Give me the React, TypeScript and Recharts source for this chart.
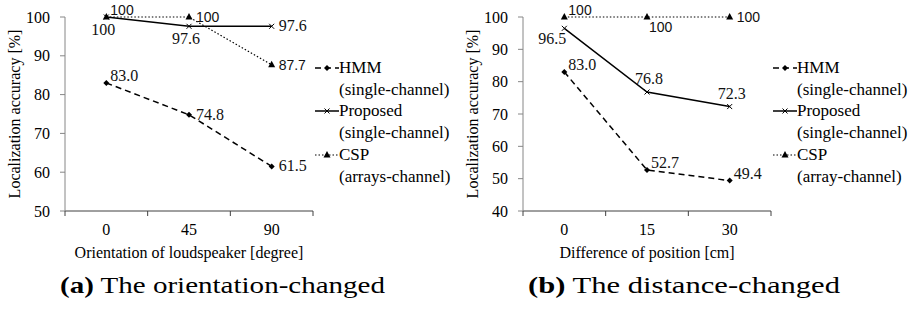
import React from 'react';
import { LineChart, Line, XAxis, YAxis, Legend, LabelList, Label } from 'recharts';

// (a) orientation changed
const orientationCats = ['0', '45', '90'];
const orientationHmm = [83.0, 74.8, 61.5];
const orientationProposed = [100, 97.6, 97.6];
const orientationCsp = [100, 100, 87.7];
const orientationTicks = [50, 60, 70, 80, 90, 100];

// (b) distance changed
const positionCats = ['0', '15', '30'];
const positionHmm = [83.0, 52.7, 49.4];
const positionProposed = [96.5, 76.8, 72.3];
const positionCsp = [100, 100, 100];
const positionTicks = [40, 50, 60, 70, 80, 90, 100];

const seriesNames = ['HMM', 'Proposed', 'CSP'];
const orientationSubs = ['(single-channel)', '(single-channel)', '(arrays-channel)'];
const positionSubs = ['(single-channel)', '(single-channel)', '(array-channel)'];

const SERIF = "'Liberation Serif', 'Times New Roman', serif";
const SANS = "'Liberation Sans', Arial, sans-serif";

const CHART_W = 456;
const CHART_H = 270;
const PLOT_L = 65;
const PLOT_R = 313;
const PLOT_T = 17;
const PLOT_B = 211;
const YAXIS_W = 50;
const XAXIS_H = 44;

const styles: Record<string, { dash?: string; width: number; marker: string }> = {
  hmm: { dash: '6 4', width: 1.5, marker: 'diamond' },
  proposed: { width: 1.5, marker: 'cross' },
  csp: { dash: '1.5 2', width: 1.2, marker: 'triangle' },
};

const placeOffsets: Record<string, { anchor: 'start' | 'middle' | 'end'; dx: number; dy: number }> = {
  right: { anchor: 'start', dx: 7, dy: 5 },
  upRight: { anchor: 'start', dx: 4, dy: -2 },
  below: { anchor: 'middle', dx: -3, dy: 18 },
  belowRight: { anchor: 'start', dx: 2, dy: 15 },
  belowLeft: { anchor: 'end', dx: 2, dy: 16 },
  above: { anchor: 'middle', dx: 2, dy: -8 },
};

const Marker = ({ cx, cy, kind }: { cx: number; cy: number; kind: string }) => {
  if (kind === 'diamond') {
    return <path d={`M${cx} ${cy - 3}L${cx + 3} ${cy}L${cx} ${cy + 3}L${cx - 3} ${cy}Z`} fill="#000" />;
  }
  if (kind === 'cross') {
    return (
      <path
        d={`M${cx - 2.5} ${cy - 2.5}L${cx + 2.5} ${cy + 2.5}M${cx - 2.5} ${cy + 2.5}L${cx + 2.5} ${cy - 2.5}`}
        stroke="#000"
        strokeWidth={1}
      />
    );
  }
  return <path d={`M${cx} ${cy - 4}L${cx + 3.5} ${cy + 2.5}L${cx - 3.5} ${cy + 2.5}Z`} fill="#000" />;
};

const fmt = (v: number) => (v === 100 ? '100' : v.toFixed(1));

const makeLabel = (placements: string[], sans: boolean) => (props: any) => {
  const { x, y, value, index } = props;
  const p = placeOffsets[placements[index]] || placeOffsets.right;
  return (
    <text
      x={x + p.dx}
      y={y + p.dy}
      textAnchor={p.anchor}
      style={{ fontFamily: sans ? SANS : SERIF }}
      fontSize={sans ? 14 : 16}
      fill="#111"
    >
      {fmt(value)}
    </text>
  );
};

const XTick = (props: any) => {
  const { x, y, payload, index, count } = props;
  const bw = (PLOT_R - PLOT_L) / count;
  return (
    <g>
      {index === 0 && <line x1={x - bw / 2} y1={y} x2={x - bw / 2} y2={y + 5} stroke="#404040" />}
      <line x1={x + bw / 2} y1={y} x2={x + bw / 2} y2={y + 5} stroke="#404040" />
      <text x={x} y={y + 24} textAnchor="middle" style={{ fontFamily: SERIF }} fontSize={16} fill="#000">
        {payload.value}
      </text>
    </g>
  );
};

const makeLegend = (subs: string[]) => () => (
  <div style={{ fontFamily: SERIF, fontSize: 17, lineHeight: '21.7px', color: '#000' }}>
    {['hmm', 'proposed', 'csp'].map((k, i) => {
      const s = styles[k];
      return (
        <div key={k}>
          <div style={{ display: 'flex', alignItems: 'center' }}>
            <svg width={24} height={12}>
              <line x1={0} y1={6} x2={24} y2={6} stroke="#000" strokeWidth={s.width} strokeDasharray={s.dash} />
              <Marker cx={12} cy={6} kind={s.marker} />
            </svg>
            <span>{seriesNames[i]}</span>
          </div>
          <div style={{ paddingLeft: 24 }}>{subs[i]}</div>
        </div>
      );
    })}
  </div>
);

interface PanelProps {
  cats: string[];
  hmm: number[];
  proposed: number[];
  csp: number[];
  yTicks: number[];
  xTitle: string;
  subs: string[];
  placements: { hmm: string[]; proposed: string[]; csp: string[] };
}

const Panel = ({ cats, hmm, proposed, csp, yTicks, xTitle, subs, placements }: PanelProps) => {
  const data = cats.map((c, i) => ({ cat: c, hmm: hmm[i], proposed: proposed[i], csp: csp[i] }));
  const series: Array<[keyof typeof placements, string]> = [
    ['hmm', seriesNames[0]],
    ['proposed', seriesNames[1]],
    ['csp', seriesNames[2]],
  ];
  return (
    <LineChart
      width={CHART_W}
      height={CHART_H}
      data={data}
      margin={{ top: PLOT_T, right: CHART_W - PLOT_R, bottom: CHART_H - PLOT_B - XAXIS_H, left: PLOT_L - YAXIS_W }}
    >
      <XAxis
        dataKey="cat"
        scale="band"
        height={XAXIS_H}
        axisLine={{ stroke: '#404040' }}
        tickLine={false}
        tickSize={0}
        tickMargin={0}
        interval={0}
        tick={(p: any) => <XTick key={p.index} {...p} count={cats.length} />}
      >
        <Label
          content={({ viewBox }: any) => (
            <text
              x={viewBox.x + viewBox.width / 2}
              y={viewBox.y + 47}
              textAnchor="middle"
              style={{ fontFamily: SERIF }}
              fontSize={16}
              fill="#000"
            >
              {xTitle}
            </text>
          )}
        />
      </XAxis>
      <YAxis
        width={YAXIS_W}
        domain={[yTicks[0], yTicks[yTicks.length - 1]]}
        ticks={yTicks}
        interval={0}
        axisLine={{ stroke: '#868686' }}
        tickLine={{ stroke: '#868686' }}
        tickSize={5}
        tickMargin={10}
        tick={{ style: { fontFamily: SERIF }, fontSize: 16, fill: '#000' }}
      >
        <Label
          content={({ viewBox }: any) => {
            const x = viewBox.x - 1;
            const y = viewBox.y + viewBox.height / 2;
            return (
              <text
                x={x}
                y={y}
                transform={`rotate(-90 ${x} ${y})`}
                textAnchor="middle"
                dominantBaseline="central"
                style={{ fontFamily: SERIF }}
                fontSize={16}
                fill="#000"
              >
                Localization accuracy [%]
              </text>
            );
          }}
        />
      </YAxis>
      <Legend
        layout="vertical"
        align="center"
        verticalAlign="middle"
        wrapperStyle={{ left: PLOT_R + 2, top: 57, width: 'auto' }}
        content={makeLegend(subs)}
      />
      {series.map(([key, name]) => {
        const s = styles[key];
        return (
          <Line
            key={key}
            dataKey={key}
            name={name}
            stroke="#000"
            strokeWidth={s.width}
            strokeDasharray={s.dash}
            isAnimationActive={false}
            dot={(p: any) => <Marker key={`${key}-${p.index}`} cx={p.cx} cy={p.cy} kind={s.marker} />}
            activeDot={false}
          >
            <LabelList dataKey={key} content={makeLabel(placements[key], key === 'csp')} />
          </Line>
        );
      })}
    </LineChart>
  );
};

export default function App() {
  return (
    <div style={{ position: 'absolute', left: 0, top: 0, width: 913, height: 320, background: '#fff' }}>
      <div style={{ position: 'absolute', left: 0, top: 0 }}>
        <Panel
          cats={orientationCats}
          hmm={orientationHmm}
          proposed={orientationProposed}
          csp={orientationCsp}
          yTicks={orientationTicks}
          xTitle="Orientation of loudspeaker [degree]"
          subs={orientationSubs}
          placements={{
            hmm: ['upRight', 'right', 'right'],
            proposed: ['below', 'below', 'right'],
            csp: ['upRight', 'right', 'right'],
          }}
        />
      </div>
      <div style={{ position: 'absolute', left: 458, top: 0 }}>
        <Panel
          cats={positionCats}
          hmm={positionHmm}
          proposed={positionProposed}
          csp={positionCsp}
          yTicks={positionTicks}
          xTitle="Difference of position [cm]"
          subs={positionSubs}
          placements={{
            hmm: ['upRight', 'upRight', 'upRight'],
            proposed: ['belowLeft', 'above', 'above'],
            csp: ['upRight', 'belowRight', 'right'],
          }}
        />
      </div>
      <svg width={913} height={320} style={{ position: 'absolute', left: 0, top: 0, pointerEvents: 'none' }}>
        <text x={60} y={293} style={{ fontFamily: SERIF }} fontSize={24} fill="#000" textLength={325} lengthAdjust="spacingAndGlyphs">
          <tspan fontWeight="bold">(a)</tspan> The orientation-changed
        </text>
        <text x={528} y={293} style={{ fontFamily: SERIF }} fontSize={24} fill="#000" textLength={312} lengthAdjust="spacingAndGlyphs">
          <tspan fontWeight="bold">(b)</tspan> The distance-changed
        </text>
      </svg>
    </div>
  );
}
